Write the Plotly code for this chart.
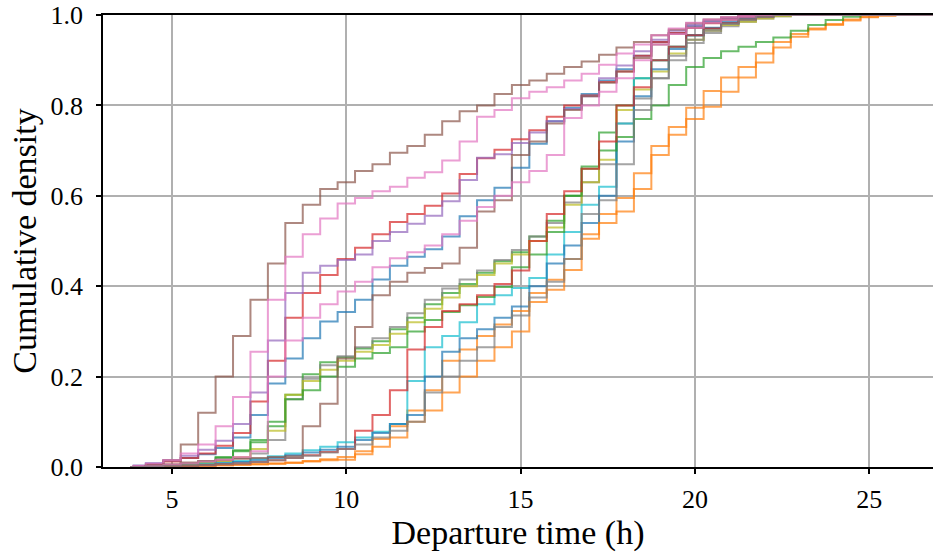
import plotly.graph_objects as go

# Centre hour of each half-hour step of the cumulative curves
HOURS = [4.0, 4.5, 5.0, 5.5, 6.0, 6.5, 7.0, 7.5, 8.0, 8.5, 9.0, 9.5, 10.0, 10.5,
         11.0, 11.5, 12.0, 12.5, 13.0, 13.5, 14.0, 14.5, 15.0, 15.5, 16.0, 16.5,
         17.0, 17.5, 18.0, 18.5, 19.0, 19.5, 20.0, 20.5, 21.0, 21.5, 22.0, 22.5,
         23.0, 23.5, 24.0, 24.5, 25.0, 25.5, 26.0]
START_HOUR = 3.8
END_HOUR = 27.0

# Cumulative share of departures per group (values listed until the curve saturates)
blue_a = [0.003, 0.008, 0.014, 0.02, 0.028, 0.042, 0.065, 0.115, 0.185, 0.24, 0.285, 0.322, 0.343, 0.37,
          0.415, 0.445, 0.465, 0.482, 0.51, 0.555, 0.59, 0.618, 0.662, 0.715, 0.765, 0.795, 0.825, 0.855,
          0.88, 0.91, 0.94, 0.96, 0.975, 0.985, 0.992, 0.997]
orange_a = [0.0, 0.0, 0.001, 0.002, 0.003, 0.004, 0.005, 0.006, 0.008, 0.01, 0.013, 0.017, 0.022, 0.035,
            0.062, 0.09, 0.125, 0.17, 0.235, 0.26, 0.29, 0.315, 0.345, 0.385, 0.414, 0.46, 0.515, 0.56,
            0.595, 0.65, 0.71, 0.752, 0.795, 0.832, 0.862, 0.885, 0.915, 0.94, 0.958, 0.97, 0.98, 0.99,
            0.996, 0.999]
green_a = [0.0, 0.002, 0.004, 0.007, 0.012, 0.022, 0.037, 0.055, 0.09, 0.16, 0.205, 0.232, 0.243, 0.262,
           0.278, 0.305, 0.33, 0.36, 0.385, 0.405, 0.43, 0.455, 0.475, 0.51, 0.545, 0.6, 0.66, 0.74,
           0.8, 0.86, 0.9, 0.93, 0.955, 0.97, 0.982, 0.99, 0.996]
red_a = [0.002, 0.006, 0.012, 0.02, 0.03, 0.047, 0.075, 0.145, 0.235, 0.33, 0.385, 0.425, 0.46, 0.485,
         0.515, 0.542, 0.56, 0.578, 0.605, 0.648, 0.683, 0.702, 0.725, 0.745, 0.775, 0.8, 0.822, 0.852,
         0.875, 0.91, 0.94, 0.96, 0.972, 0.982, 0.99, 0.995]
purple_a = [0.003, 0.008, 0.015, 0.025, 0.038, 0.058, 0.095, 0.165, 0.28, 0.385, 0.43, 0.445, 0.458, 0.47,
            0.5, 0.52, 0.538, 0.556, 0.588, 0.635, 0.684, 0.692, 0.717, 0.74, 0.765, 0.792, 0.82, 0.86,
            0.888, 0.92, 0.945, 0.965, 0.978, 0.988, 0.994, 0.998]
brown_a = [0.0, 0.005, 0.015, 0.05, 0.12, 0.2, 0.29, 0.37, 0.45, 0.54, 0.58, 0.615, 0.63, 0.655,
           0.67, 0.695, 0.71, 0.735, 0.765, 0.787, 0.8, 0.825, 0.845, 0.855, 0.87, 0.885, 0.897, 0.912,
           0.928, 0.94, 0.955, 0.968, 0.982, 0.99, 0.995, 0.998]
pink_a = [0.003, 0.008, 0.015, 0.03, 0.05, 0.09, 0.155, 0.255, 0.37, 0.465, 0.515, 0.55, 0.583, 0.595,
          0.61, 0.62, 0.64, 0.652, 0.678, 0.72, 0.775, 0.79, 0.816, 0.83, 0.84, 0.855, 0.87, 0.89,
          0.915, 0.935, 0.955, 0.97, 0.983, 0.99, 0.995, 0.998]
gray_a = [0.0, 0.001, 0.003, 0.005, 0.008, 0.012, 0.02, 0.03, 0.06, 0.15, 0.195, 0.225, 0.245, 0.265,
          0.285, 0.31, 0.34, 0.37, 0.395, 0.415, 0.435, 0.458, 0.48, 0.51, 0.54, 0.585, 0.63, 0.67,
          0.76, 0.815, 0.86, 0.9, 0.938, 0.96, 0.975, 0.985, 0.992, 0.997]
olive_a = [0.0, 0.001, 0.003, 0.005, 0.008, 0.013, 0.022, 0.04, 0.08, 0.16, 0.19, 0.215, 0.235, 0.255,
           0.27, 0.295, 0.32, 0.35, 0.375, 0.4, 0.425, 0.45, 0.47, 0.5, 0.53, 0.58, 0.63, 0.68,
           0.79, 0.835, 0.875, 0.915, 0.945, 0.965, 0.978, 0.985, 0.992, 0.997]
cyan_a = [0.0, 0.001, 0.002, 0.004, 0.006, 0.009, 0.013, 0.018, 0.024, 0.03, 0.037, 0.045, 0.055, 0.065,
          0.078, 0.095, 0.19, 0.265, 0.29, 0.32, 0.36, 0.38, 0.396, 0.418, 0.47, 0.52, 0.58, 0.62,
          0.76, 0.86, 0.9, 0.93, 0.955, 0.97, 0.982, 0.99, 0.996]
blue_b = [0.0, 0.001, 0.002, 0.003, 0.005, 0.008, 0.011, 0.015, 0.02, 0.026, 0.032, 0.038, 0.045, 0.06,
          0.075, 0.095, 0.115, 0.2, 0.255, 0.285, 0.305, 0.33, 0.355, 0.4, 0.45, 0.49, 0.54, 0.6,
          0.72, 0.82, 0.88, 0.925, 0.955, 0.972, 0.985, 0.993, 0.998]
orange_b = [0.0, 0.0, 0.001, 0.002, 0.003, 0.004, 0.005, 0.006, 0.007, 0.009, 0.012, 0.015, 0.016, 0.028,
            0.045, 0.065, 0.1, 0.125, 0.165, 0.2, 0.235, 0.265, 0.3, 0.365, 0.392, 0.436, 0.505, 0.54,
            0.565, 0.615, 0.69, 0.735, 0.77, 0.797, 0.83, 0.862, 0.895, 0.928, 0.952, 0.968, 0.978,
            0.988, 0.995, 0.999]
green_b = [0.0, 0.002, 0.004, 0.007, 0.012, 0.02, 0.035, 0.06, 0.1, 0.15, 0.17, 0.2, 0.222, 0.24,
           0.252, 0.265, 0.3, 0.325, 0.343, 0.358, 0.376, 0.398, 0.442, 0.47, 0.52, 0.6, 0.665, 0.7,
           0.73, 0.77, 0.8, 0.845, 0.885, 0.905, 0.92, 0.93, 0.94, 0.95, 0.965, 0.978, 0.989, 0.996]
red_b = [0.0, 0.001, 0.002, 0.003, 0.004, 0.006, 0.008, 0.011, 0.015, 0.02, 0.026, 0.033, 0.04, 0.08,
         0.115, 0.17, 0.26, 0.31, 0.345, 0.36, 0.38, 0.405, 0.435, 0.5, 0.56, 0.61, 0.66, 0.72,
         0.8, 0.84, 0.9, 0.93, 0.955, 0.97, 0.982, 0.99, 0.996]
brown_b = [0.0, 0.003, 0.006, 0.01, 0.013, 0.016, 0.018, 0.02, 0.022, 0.024, 0.09, 0.14, 0.24, 0.31,
           0.38, 0.41, 0.43, 0.44, 0.45, 0.485, 0.565, 0.59, 0.69, 0.72, 0.76, 0.79, 0.82, 0.85,
           0.875, 0.905, 0.935, 0.958, 0.972, 0.983, 0.99, 0.996]
pink_b = [0.0, 0.002, 0.005, 0.008, 0.012, 0.016, 0.022, 0.035, 0.2, 0.28, 0.33, 0.36, 0.388, 0.41,
          0.442, 0.462, 0.475, 0.49, 0.515, 0.545, 0.575, 0.6, 0.63, 0.655, 0.69, 0.772, 0.8, 0.83,
          0.86, 0.9, 0.935, 0.958, 0.972, 0.983, 0.99, 0.996]
gray_b = [0.0, 0.001, 0.002, 0.003, 0.004, 0.006, 0.008, 0.011, 0.015, 0.02, 0.025, 0.032, 0.04, 0.05,
          0.065, 0.08, 0.1, 0.165, 0.2, 0.235, 0.265, 0.31, 0.335, 0.375, 0.41, 0.46, 0.56, 0.59,
          0.67, 0.79, 0.86, 0.91, 0.945, 0.965, 0.98, 0.99, 0.996]

TAB10 = {"blue": "#1f77b4", "orange": "#ff7f0e", "green": "#2ca02c", "red": "#d62728",
         "purple": "#9467bd", "brown": "#8c564b", "pink": "#e377c2", "gray": "#7f7f7f",
         "olive": "#bcbd22", "cyan": "#17becf"}

series = [
    ("blue", blue_a), ("orange", orange_a), ("green", green_a), ("red", red_a),
    ("purple", purple_a), ("brown", brown_a), ("pink", pink_a), ("gray", gray_a),
    ("olive", olive_a), ("cyan", cyan_a), ("blue", blue_b), ("orange", orange_b),
    ("green", green_b), ("red", red_b), ("brown", brown_b), ("pink", pink_b), ("gray", gray_b),
]

X_TICKS = [5, 10, 15, 20, 25]
Y_TICKS = [0.0, 0.2, 0.4, 0.6, 0.8, 1.0]

FONT = "Liberation Serif"

fig = go.Figure()
for color, cdf in series:
    # once a curve reaches 1 it stays there to the end of the day
    full = cdf + [1.0] * (len(HOURS) - len(cdf))
    fig.add_trace(go.Scatter(
        x=[START_HOUR] + HOURS + [END_HOUR], y=[0.0] + full + [1.0],
        mode="lines", line=dict(color=TAB10[color], width=2, shape="hvh"),
        opacity=0.7, showlegend=False, hoverinfo="skip", cliponaxis=True,
    ))

axis_common = dict(
    showgrid=True, gridcolor="#b0b0b0", gridwidth=1.6,
    showline=True, linecolor="black", linewidth=1.5,
    ticks="outside", ticklen=5, tickwidth=1.5, tickcolor="black",
    zeroline=False, automargin=False,
    tickfont=dict(family=FONT, size=26, color="black"),
)

fig.update_xaxes(
    range=[3.02, 26.83], tickvals=X_TICKS, ticktext=[str(v) for v in X_TICKS],
    mirror=True, ticklabelstandoff=3,
    title=dict(text="Departure time (h)", font=dict(family=FONT, size=34, color="black"), standoff=4),
    **axis_common,
)
fig.update_yaxes(
    range=[0, 1], tickvals=Y_TICKS, ticktext=[f"{v:.1f}" for v in Y_TICKS],
    ticklabelstandoff=8,
    title=dict(text="Cumulative density", font=dict(family=FONT, size=34, color="black"), standoff=4),
    **axis_common,
)

fig.update_layout(
    width=933, height=552,
    margin=dict(l=103, r=0, t=15, b=85),
    paper_bgcolor="white", plot_bgcolor="white",
)

fig.write_html("out.html")
